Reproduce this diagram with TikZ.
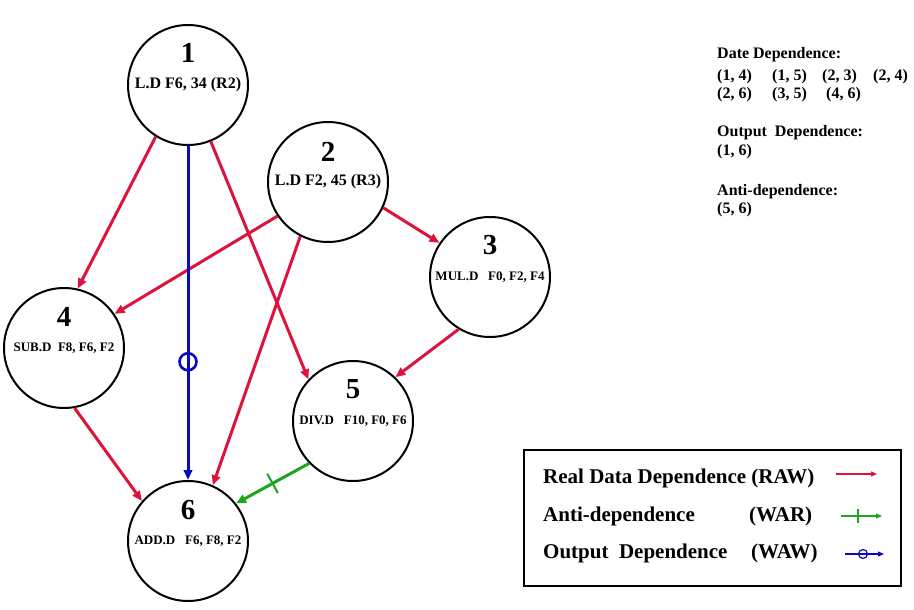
\documentclass[tikz,border=0pt]{standalone}
\usepackage{fontspec}
\setmainfont{Liberation Serif}
\usetikzlibrary{arrows.meta,calc}

\definecolor{rawred}{RGB}{220,20,60}
\definecolor{wawblue}{RGB}{10,10,190}
\definecolor{wargreen}{RGB}{30,165,30}

\begin{document}
\begin{tikzpicture}[x=1pt,y=-1pt,
    every node/.style={font=\bfseries},
    instr/.style={draw,circle,line width=2pt,minimum size=120pt,inner sep=0pt},
    num/.style={font=\bfseries\fontsize{29}{29}\selectfont},
    big/.style={font=\bfseries\fontsize{16}{16}\selectfont},
    small/.style={font=\bfseries\fontsize{13}{13}\selectfont},
    note/.style={anchor=west,inner sep=0pt,font=\bfseries\fontsize{16}{16}\selectfont},
    legend/.style={anchor=west,inner sep=0pt,font=\bfseries\fontsize{21}{21}\selectfont},
    rawdep/.style={rawred,line width=3pt,-{Triangle[length=10pt,width=8.5pt]}},
    wardep/.style={wargreen,line width=3pt,-{Triangle[length=10pt,width=8.5pt]}},
    wawdep/.style={wawblue,line width=3pt,-{Triangle[length=10pt,width=8.5pt]}}]
  \useasboundingbox (0,0) rectangle (914,610);

  % instructions
  \node[instr] (n1) at (188,85) {};
  \node[num] (k1) at ($(n1)+(0,-32)$) {1};
  \node[big] (t1) at (n1) {L.D F6, 34 (R2)};

  \node[instr] (n2) at (328,182) {};
  \node[num] (k2) at ($(n2)+(0,-30)$) {2};
  \node[big] (t2) at (n2) {L.D F2, 45 (R3)};

  \node[instr] (n3) at (490,277) {};
  \node[num] (k3) at ($(n3)+(0,-32)$) {3};
  \node[small] (t3) at (n3) {MUL.D\ \ \ F0, F2, F4};

  \node[instr] (n4) at (64,348) {};
  \node[num] (k4) at ($(n4)+(0,-31)$) {4};
  \node[small] (t4) at (n4) {SUB.D\ \ F8, F6, F2};

  \node[instr] (n5) at (353,421) {};
  \node[num] (k5) at ($(n5)+(0,-32)$) {5};
  \node[small] (t5) at (n5) {DIV.D\ \ \ F10, F0, F6};

  \node[instr] (n6) at (188,541) {};
  \node[num] (k6) at ($(n6)+(0,-31)$) {6};
  \node[small] (t6) at (n6) {ADD.D\ \ \ F6, F8, F2};

  % data dependences
  \draw[rawdep] (n1.238) -- (n4.77);
  \draw[rawdep] (n1.292) -- (n5.137);
  \draw[rawdep] (n2.214) -- (n4.34);
  \draw[rawdep] (n2.243) -- (n6.66);
  \draw[rawdep] (n2.335) -- (n3.146);
  \draw[rawdep] (n3.239) -- (n5.46);
  \draw[rawdep] (n4.280) -- (n6.139);

  % output dependence
  \draw[wawdep] (n1.south) -- coordinate[pos=.646] (o16) (n6.north);
  \draw[wawblue,line width=2.6pt] (o16) circle (8.5pt);

  % anti-dependence
  \draw[wardep] (n5.224) -- coordinate[pos=.5] (a56) (n6.38);
  \draw[wargreen,line width=2pt] ($(a56)!11pt!90:(n6.38)$) -- ($(a56)!11pt!-90:(n6.38)$);

  % list of dependences
  \node[note] (d0) at (717,55) {Date Dependence:};
  \node[note] (d1) at (717,77) {(1, 4)};
  \node[note] (d2) at (772,77) {(1, 5)};
  \node[note] (d3) at (822,77) {(2, 3)};
  \node[note] (d4) at (873,77) {(2, 4)};
  \node[note] (d5) at (717,95) {(2, 6)};
  \node[note] (d6) at (772,95) {(3, 5)};
  \node[note] (d7) at (826,95) {(4, 6)};
  \node[note] (o0) at (717,133) {Output\ \ Dependence:};
  \node[note] (o1) at (717,152) {(1, 6)};
  \node[note] (a0) at (717,192) {Anti-dependence:};
  \node[note] (a1) at (717,210) {(5, 6)};

  % legend
  \draw[line width=1.4pt] (524,450) rectangle (901,586);
  \node[legend] (l1) at (543,478) {Real Data Dependence (RAW)};
  \node[legend] (l2) at (543,516) {Anti-dependence};
  \node[legend] (l2b) at (749,516) {(WAR)};
  \node[legend] (l3) at (543,553) {Output\ \ Dependence};
  \node[legend] (l3b) at (751,553) {(WAW)};

  \coordinate (r1) at (836,474);
  \coordinate (r2) at (877,474);
  \draw[rawred,line width=1.2pt,-{Triangle[length=6pt,width=5pt]}] (r1) -- (r2);
  \coordinate (g1) at (841,516);
  \coordinate (g2) at (882,516);
  \draw[wargreen,line width=1.2pt,-{Triangle[length=6pt,width=5pt]}] (g1) -- (g2);
  \draw[wargreen,line width=1.2pt] (858,509) -- (858,523);
  \coordinate (b1) at (845,554);
  \coordinate (b2) at (884,554);
  \draw[wawblue,line width=1.2pt,-{Triangle[length=6pt,width=5pt]}] (b1) -- (b2);
  \draw[wawblue,line width=1.2pt] (863,554) circle (4.5pt);
\end{tikzpicture}
\end{document}
